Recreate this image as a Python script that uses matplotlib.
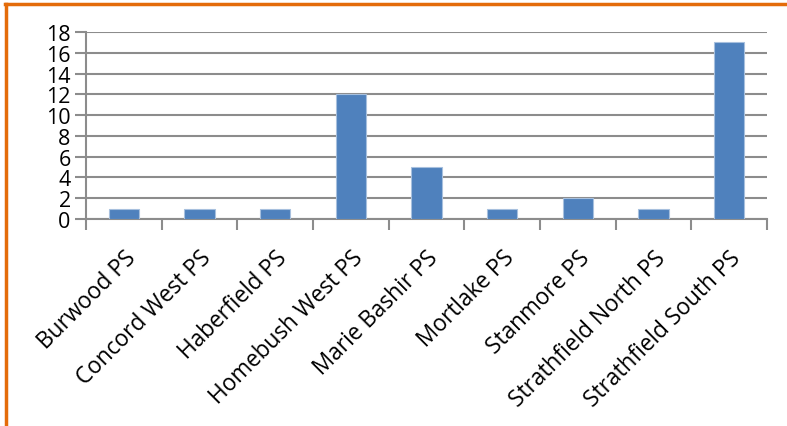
import matplotlib
matplotlib.use("Agg")
import matplotlib.pyplot as plt
from matplotlib.lines import Line2D

categories = ["Burwood PS", "Concord West PS", "Haberfield PS", "Homebush West PS",
              "Marie Bashir PS", "Mortlake PS", "Stanmore PS", "Strathfield North PS",
              "Strathfield South PS"]
values = [1, 1, 1, 12, 5, 1, 2, 1, 17]
yticks = [0, 2, 4, 6, 8, 10, 12, 14, 16, 18]

plt.rcParams['font.family'] = ['Open Sans', 'DejaVu Sans']

W, H = 787, 427
fig = plt.figure(figsize=(W / 100, H / 100), dpi=100)
ax = fig.add_axes([86 / W, 1 - 220 / H, (767 - 86) / W, (220 - 33) / H])

x = list(range(len(categories)))
ax.bar(x, values, width=0.4, color="#4F81BD", edgecolor="#A7C0DE", linewidth=0.8, zorder=3)
ax.set_xlim(-0.5, len(categories) - 0.5)
ax.set_ylim(0, 18)
ax.set_yticks(yticks)
ax.set_yticklabels([str(v) for v in yticks], fontsize=15.5)
ax.yaxis.grid(True, color="#8C8C8C", linewidth=1.5, zorder=0)
ax.set_axisbelow(True)

ax.set_xticks([i - 0.5 for i in range(len(categories) + 1)], minor=True)
ax.set_xticks(x)
ax.set_xticklabels(categories, rotation=45, ha="right", rotation_mode="anchor", fontsize=16.3)
ax.tick_params(axis="x", which="major", length=0, pad=19)
ax.tick_params(axis="x", which="minor", length=8, width=1.5, color="#8C8C8C")
ax.tick_params(axis="y", length=8, width=1.5, color="#8C8C8C", pad=3)

for s in ["top", "right"]:
    ax.spines[s].set_visible(False)
for s in ["left", "bottom"]:
    ax.spines[s].set_color("#8C8C8C")
    ax.spines[s].set_linewidth(1.5)

orange = "#E46C0A"
fig.add_artist(Line2D([6 / W, 6 / W], [0, 1 - 5 / H], color=orange, linewidth=2.5, transform=fig.transFigure))
fig.add_artist(Line2D([5 / W, 1], [1 - 5 / H, 1 - 5 / H], color=orange, linewidth=2.5, transform=fig.transFigure))

fig.savefig("out.png", dpi=100)
